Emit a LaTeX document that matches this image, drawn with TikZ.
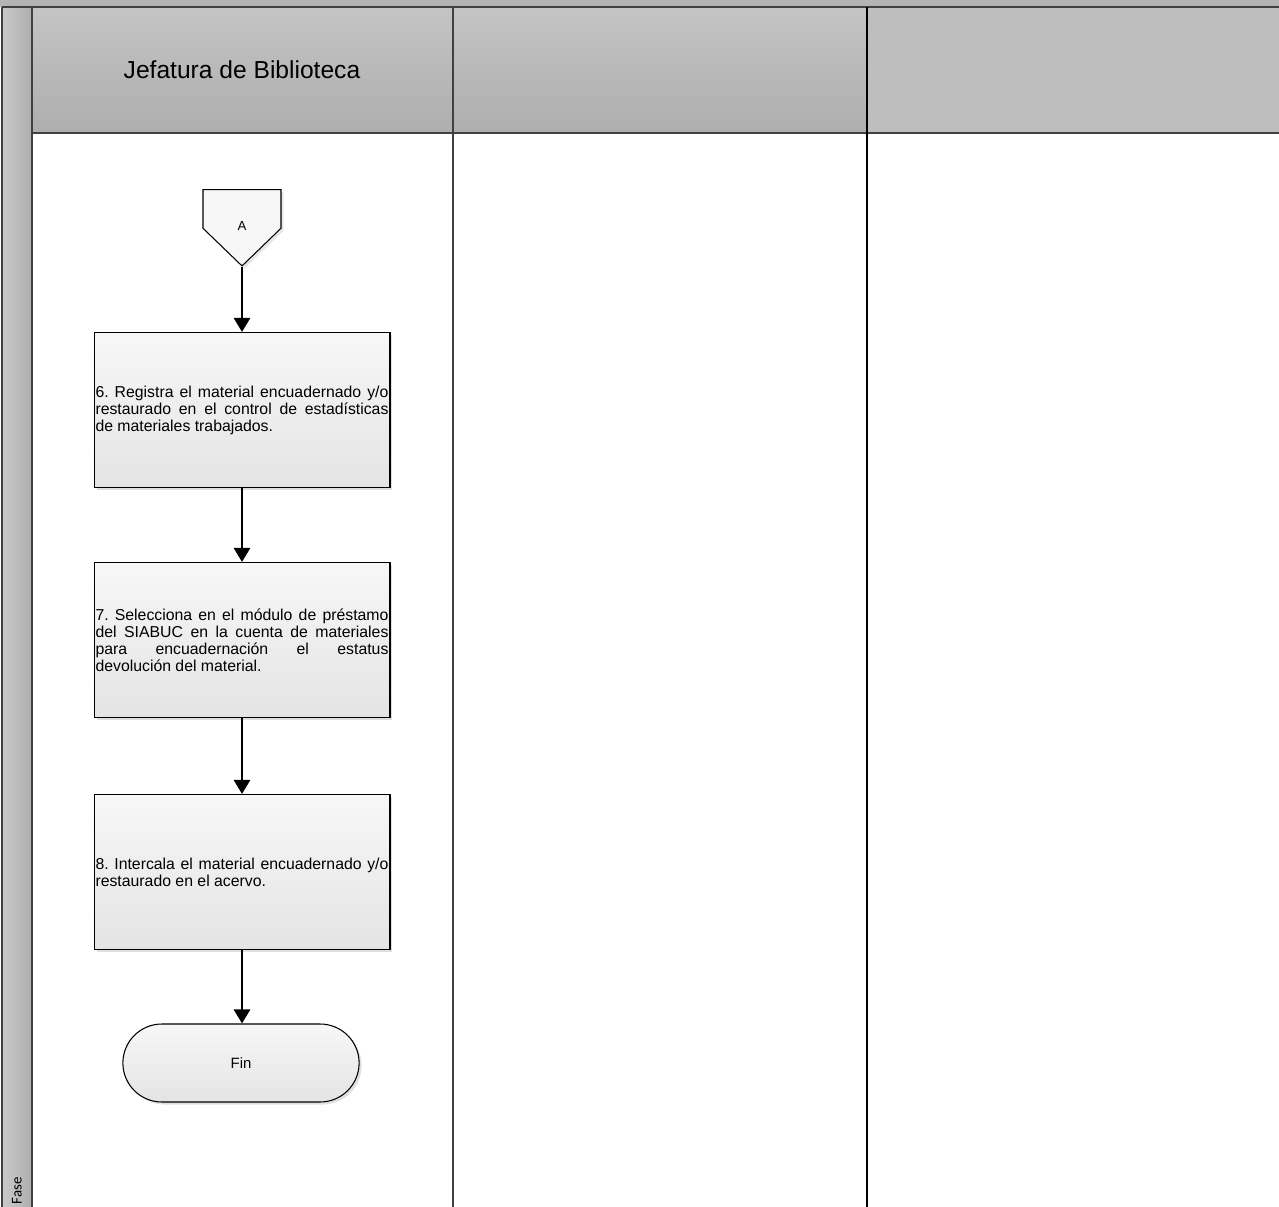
\documentclass[tikz,border=0pt]{standalone}
\usepackage{fontspec}
\setmainfont{Liberation Sans}
\newfontfamily\fasefont{Carlito}
\usetikzlibrary{arrows.meta,positioning,shapes.misc,shapes.symbols,shadows}
\definecolor{BandGray}{RGB}{180,180,180}
\definecolor{HeadTop}{RGB}{196,196,196}
\definecolor{HeadBot}{RGB}{174,174,174}
\definecolor{LaneLine}{RGB}{64,64,64}
\definecolor{BoxTop}{RGB}{247,247,247}
\definecolor{BoxBot}{RGB}{228,228,228}
\frenchspacing

\begin{document}
\begin{tikzpicture}[x=0.02cm,y=-0.02cm,
  act/.style={rectangle,draw=black,line width=0.6pt,top color=BoxTop,bottom color=BoxBot,minimum width=5.92cm,minimum height=3.1cm,text width=5.86cm,inner sep=0.5pt,align=justify,font=\fontsize{9}{9.7}\selectfont,drop shadow={shadow xshift=0.05cm,shadow yshift=-0.05cm,opacity=0.25}},
  offpage/.style={signal,signal to=south,signal pointer angle=92,draw=black,line width=0.6pt,fill=BoxTop,minimum width=1.56cm,minimum height=0.86cm,inner sep=0pt,font=\fontsize{7.5}{9}\selectfont,drop shadow={shadow xshift=0.05cm,shadow yshift=-0.05cm,opacity=0.2}},
  term/.style={rounded rectangle,draw=black,line width=0.6pt,top color=BoxTop,bottom color=BoxBot,minimum width=4.96cm,minimum height=1.56cm,font=\fontsize{8.5}{10}\selectfont,drop shadow={shadow xshift=0.05cm,shadow yshift=-0.05cm,opacity=0.25}},
  flow/.style={-{Triangle[length=0.28cm,width=0.32cm]},line width=1.6pt},
  lane/.style={draw=LaneLine,line width=0.04cm}
]
  \useasboundingbox (0,0) rectangle (1279,1207);
  \fill[BandGray] (0,0) rectangle (1279,7);
  \shade[left color=HeadTop!90!white,right color=HeadBot] (2,7) rectangle (32,1207);
  \shade[top color=HeadTop,bottom color=HeadBot] (32,7) rectangle (453,133);
  \shade[top color=HeadTop,bottom color=HeadBot] (453,7) rectangle (867,133);
  \fill[HeadTop!97!black] (867,7) rectangle (1279,133);
  \draw[lane] (2,7) -- (1279,7);
  \draw[lane] (32,133) -- (1279,133);
  \draw[lane] (2,7) -- (2,1207);
  \draw[lane] (32,7) -- (32,1207);
  \draw[lane] (453,7) -- (453,1207);
  \draw[lane,draw=black] (867,7) -- (867,1207);

  \node[font=\fontsize{14}{16}\selectfont] (lane1) at (242,70) {Jefatura de Biblioteca};
  \node[rotate=90,font=\fasefont\fontsize{8.5}{10}\selectfont] (fase) at (17,1191) {Fase};

  \node[offpage,anchor=north] (conA) at (242,189) {\raisebox{-0.43cm}[0pt][0pt]{A}};
  \node[act] (s6) at (242,410) {6. Registra el material encuadernado y/o\linebreak restaurado en el control de estadísticas\linebreak de materiales trabajados.};
  \node[act] (s7) at (242,640) {7. Selecciona en el módulo de préstamo\linebreak del SIABUC en la cuenta de materiales\linebreak para encuadernación el estatus\linebreak devolución del material.};
  \node[act] (s8) at (242,872) {8. Intercala el material encuadernado y/o\linebreak restaurado en el acervo.};
  \node[term] (fin) at (241,1063) {Fin};

  \draw[flow] (conA.south) -- (s6);
  \draw[flow] (s6) -- (s7);
  \draw[flow] (s7) -- (s8);
  \draw[flow] (s8.south) -- (s8.south |- fin.north);
\end{tikzpicture}
\end{document}
